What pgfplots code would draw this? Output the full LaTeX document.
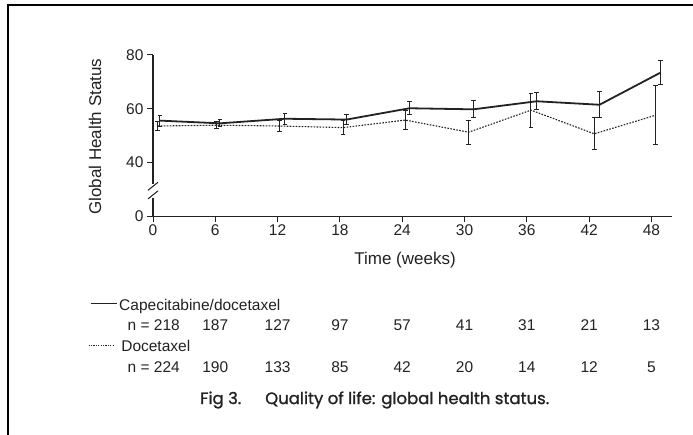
\documentclass[border=0pt]{standalone}
\usepackage{fontspec}
\setmainfont{Liberation Sans}
\newfontfamily\capfont{Poppins}[FakeBold=1.2]
\usepackage{pgfplots}
\usepackage{pgfplotstable}
\pgfplotsset{compat=1.18}

% week, value, error (y axis is broken: 0 is drawn at the level of 20)
\pgfplotstableread{
x y e
0.67 55.6 2.0
6.45 54.6 1.3
12.7 56.3 2.0
18.65 56.0 1.8
24.7 60.2 2.5
30.85 59.8 3.2
36.95 62.8 3.2
43.0 61.5 4.8
48.9 73.5 4.3
}\capdoc
\pgfplotstableread{
x y e
0.45 53.6 1.6
6.13 53.9 1.3
12.2 53.6 2.2
18.3 53.0 2.7
24.3 55.8 3.5
30.4 51.3 4.4
36.4 59.5 6.3
42.5 50.7 6.0
48.4 57.6 11.0
}\doc

\definecolor{ink}{HTML}{222222}
\begin{document}
\begin{tikzpicture}
\path[use as bounding box] (0pt,0pt) rectangle (693pt,435pt);
\draw[line width=1.5pt] (8pt,0pt) -- (8pt,430pt) -- (693pt,430pt);
\begin{axis}[
  at={(153pt,218.6pt)}, anchor=south west,
  scale only axis, width=519.2pt, height=161.4pt,
  xmin=0, xmax=50, ymin=20, ymax=80,
  axis lines=left,
  axis line style={-, line width=1.2pt, ink},
  y axis line style={draw=none},
  xtick={0,6,...,48},
  ytick={20,40,60,80}, yticklabels={0,40,60,80},
  tick align=outside, major tick length=6pt,
  tick style={line width=1pt, ink},
  ticklabel style={font=\fontsize{15.5}{16}\selectfont, text=ink},
  /pgf/number format/assume math mode=true,
  xticklabel style={yshift=1pt},
  clip=false,
]
\addplot[ink, line width=1.8pt,
  error bars/.cd, y dir=both, y explicit,
  error bar style={solid, line width=1pt},
  error mark options={rotate=90, mark size=2.3pt, line width=1pt}]
  table[x=x, y=y, y error=e] {\capdoc};
\addplot[ink, line width=1.1pt, dash pattern=on 1.6pt off 1.4pt,
  error bars/.cd, y dir=both, y explicit,
  error bar style={solid, line width=1pt},
  error mark options={solid, rotate=90, mark size=2.3pt, line width=1pt}]
  table[x=x, y=y, y error=e] {\doc};

% broken y axis
\draw[line width=1.2pt, ink] (axis cs:0,80) -- (axis cs:0,32.2);
\draw[line width=1.2pt, ink] (axis cs:0,27.0) -- (axis cs:0,20);
\draw[line width=1pt, ink] ([shift={(-5pt,-4pt)}]axis cs:0,31.2) -- ([shift={(5pt,4pt)}]axis cs:0,31.2);
\draw[line width=1pt, ink] ([shift={(-5pt,-4pt)}]axis cs:0,28.0) -- ([shift={(5pt,4pt)}]axis cs:0,28.0);

% numbers at risk
\begin{scope}[every node/.style={font=\fontsize{15.5}{16}\selectfont, text=ink, inner sep=0pt, anchor=base}]
\draw[ink, line width=1pt] (axis cs:-6.0,-12.4) -- (axis cs:-3.5,-12.4);
\node[anchor=base west] at (axis cs:-3.27,-14.9) {Capecitabine/docetaxel};
\node[anchor=base east] at (axis cs:2.6,-22.4) {n = 218};
\draw[ink, line width=0.9pt, dash pattern=on 1.2pt off 1.2pt] (axis cs:-6.2,-28.0) -- (axis cs:-3.7,-28.0);
\node[anchor=base west] at (axis cs:-3.07,-30.2) {Docetaxel};
\node[anchor=base east] at (axis cs:2.6,-38.0) {n = 224};
\node at (axis cs:6,-22.4) {187};
\node at (axis cs:12,-22.4) {127};
\node at (axis cs:18,-22.4) {97};
\node at (axis cs:24,-22.4) {57};
\node at (axis cs:30,-22.4) {41};
\node at (axis cs:36,-22.4) {31};
\node at (axis cs:42,-22.4) {21};
\node at (axis cs:48,-22.4) {13};
\node at (axis cs:6,-38.0) {190};
\node at (axis cs:12,-38.0) {133};
\node at (axis cs:18,-38.0) {85};
\node at (axis cs:24,-38.0) {42};
\node at (axis cs:30,-38.0) {20};
\node at (axis cs:36,-38.0) {14};
\node at (axis cs:42,-38.0) {12};
\node at (axis cs:48,-38.0) {5};
\end{scope}
\end{axis}
\node[rotate=90, font=\fontsize{17}{18}\selectfont, text=ink] at (95pt,298.3pt) {Global Health Status};
\node[font=\fontsize{17}{18}\selectfont, text=ink] at (405pt,175pt) {Time (weeks)};
\node[anchor=west, font=\capfont\fontsize{16.5}{17}\selectfont, text=ink, inner sep=0pt] at (200pt,35pt) {Fig 3.};
\node[anchor=west, font=\capfont\fontsize{16.5}{17}\selectfont, text=ink, inner sep=0pt] at (265pt,35pt) {Quality of life: global health status.};
\end{tikzpicture}
\end{document}
